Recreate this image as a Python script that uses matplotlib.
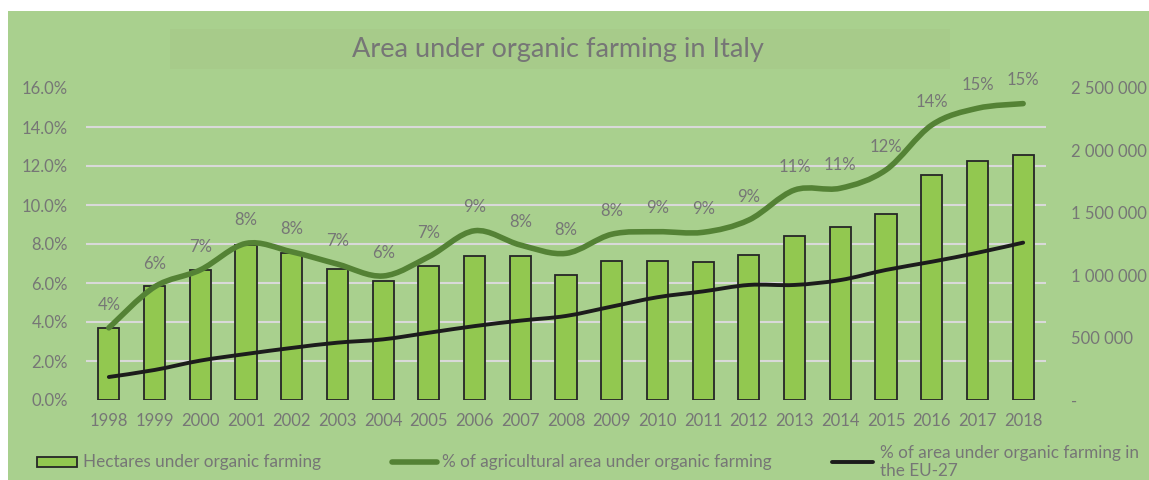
import matplotlib
matplotlib.use("Agg")
import matplotlib.pyplot as plt
from matplotlib.path import Path
from matplotlib.patches import PathPatch, Rectangle
from matplotlib.lines import Line2D
from matplotlib.ticker import MultipleLocator, FixedLocator

plt.rcParams['font.family'] = ['Lato', 'DejaVu Sans']

years = [str(y) for y in range(1998, 2019)]
hectares = [579000, 914000, 1039000, 1240000, 1176000, 1050000, 954000, 1076000,
            1151000, 1150000, 1002000, 1114000, 1114000, 1103000, 1164000, 1314000,
            1389000, 1490000, 1803000, 1912000, 1963000]
pct_italy = [3.7, 5.8, 6.67, 8.03, 7.6, 6.97, 6.36, 7.35, 8.68, 7.95, 7.52, 8.5,
             8.63, 8.6, 9.23, 10.77, 10.86, 11.8, 14.1, 14.96, 15.2]
pct_labels = ['4%', '6%', '7%', '8%', '8%', '7%', '6%', '7%', '9%', '8%', '8%', '8%',
              '9%', '9%', '9%', '11%', '11%', '12%', '14%', '15%', '15%']
pct_eu = [1.18, 1.54, 2.02, 2.36, 2.67, 2.94, 3.11, 3.45, 3.79, 4.07, 4.31, 4.79,
          5.27, 5.57, 5.9, 5.9, 6.15, 6.67, 7.09, 7.55, 8.07]

bg = '#a9d08e'
txt = '#767676'
fs = 12


def smooth_path(xs, ys):
    # excel-like smoothed line: cubic bezier with catmull-rom control points
    pts = list(zip(xs, ys))
    verts = [pts[0]]
    codes = [Path.MOVETO]
    n = len(pts)
    for i in range(n - 1):
        p0 = pts[i - 1] if i > 0 else pts[i]
        p1 = pts[i]
        p2 = pts[i + 1]
        p3 = pts[i + 2] if i + 2 < n else pts[i + 1]
        c1 = (p1[0] + (p2[0] - p0[0]) / 6, p1[1] + (p2[1] - p0[1]) / 6)
        c2 = (p2[0] - (p3[0] - p1[0]) / 6, p2[1] - (p3[1] - p1[1]) / 6)
        verts += [c1, c2, p2]
        codes += [Path.CURVE4] * 3
    return Path(verts, codes)


fig = plt.figure(figsize=(11.49, 4.8), dpi=100)
fig.patch.set_facecolor('white')
fig.patches.append(Rectangle((8 / 1149, 0), 1, 1 - 11 / 480, transform=fig.transFigure,
                             facecolor=bg, edgecolor='none', zorder=-10))
# title box
fig.patches.append(Rectangle((170 / 1149, 1 - 69 / 480), 780 / 1149, 40 / 480,
                             transform=fig.transFigure, facecolor='#a7cb8a',
                             edgecolor='none', zorder=-9))
fig.text(558 / 1149, 1 - 49 / 480, 'Area under organic farming in Italy', color=txt,
         fontsize=19.5, ha='center', va='center')

rect = [86 / 1149, 1 - 400 / 480, 960 / 1149, 312 / 480]
ax2 = fig.add_axes(rect)   # bars, right axis (drawn below)
ax = fig.add_axes(rect, sharex=ax2)  # lines, left axis
ax.set_zorder(2)
ax2.set_zorder(1)
ax.patch.set_visible(False)
ax2.patch.set_visible(False)

x = list(range(len(years)))

ax2.bar(x, hectares, width=0.46, color='#92c850', edgecolor='#262626', linewidth=1.3, zorder=3)
ax2.set_ylim(0, 2500000)
ax2.set_xlim(-0.5, len(years) - 0.5)
ax2.yaxis.tick_right()
ax2.yaxis.set_major_locator(FixedLocator([0, 500000, 1000000, 1500000, 2000000, 2500000]))
ax2.set_yticklabels(['-', '500 000', '1 000 000', '1 500 000', '2 000 000', '2 500 000'],
                    ha='left')
ax2.yaxis.set_minor_locator(MultipleLocator(312500))
ax2.grid(which='minor', axis='y', color='#d9d9d9', linewidth=1.5, zorder=0)
ax2.grid(which='major', visible=False)
ax2.tick_params(axis='y', which='both', length=0, pad=18, colors=txt, labelsize=fs)
ax2.tick_params(axis='x', length=0, pad=9, colors=txt, labelsize=fs)
ax2.set_xticks(x)
ax2.set_xticklabels(years)
for s in ax2.spines.values():
    s.set_visible(False)

ax.add_patch(PathPatch(smooth_path(x, pct_italy), facecolor='none', edgecolor='#548235',
                       linewidth=4, capstyle='round', zorder=4))
ax.add_patch(PathPatch(smooth_path(x, pct_eu), facecolor='none', edgecolor='#1c1c1c',
                       linewidth=2.8, capstyle='round', zorder=4))
for xi, yi, lab in zip(x, pct_italy, pct_labels):
    ax.annotate(lab, (xi, yi), xytext=(0, 11), textcoords='offset points', ha='center',
                va='bottom', color=txt, fontsize=fs)
ax.set_ylim(0, 16)
ax.yaxis.set_major_locator(MultipleLocator(2))
ax.yaxis.set_major_formatter(lambda v, p: f'{v:.1f}%')
ax.tick_params(axis='y', length=0, pad=13, colors=txt, labelsize=fs)
ax.tick_params(axis='x', labelbottom=False, length=0)
for s in ax.spines.values():
    s.set_visible(False)

# legend
ly = 1 - 462 / 480
fig.patches.append(Rectangle((37 / 1149, ly - 5 / 480), 40 / 1149, 10 / 480,
                             transform=fig.transFigure, facecolor='#92c850',
                             edgecolor='#262626', linewidth=1.3))
fig.text(83 / 1149, ly, 'Hectares under organic farming', color=txt, fontsize=12.3, va='center')
fig.lines.append(Line2D([392 / 1149, 437 / 1149], [ly, ly], transform=fig.transFigure,
                        color='#548235', linewidth=4, solid_capstyle='round'))
fig.text(442 / 1149, ly, '% of agricultural area under organic farming', color=txt,
         fontsize=12.3, va='center')
fig.lines.append(Line2D([832 / 1149, 873 / 1149], [ly, ly], transform=fig.transFigure,
                        color='#1c1c1c', linewidth=2.8, solid_capstyle='round'))
fig.text(880 / 1149, ly, '% of area under organic farming in\nthe EU-27', color=txt,
         fontsize=12.3, va='center', linespacing=1.2)

fig.savefig('out.png', dpi=100, facecolor=fig.get_facecolor())
